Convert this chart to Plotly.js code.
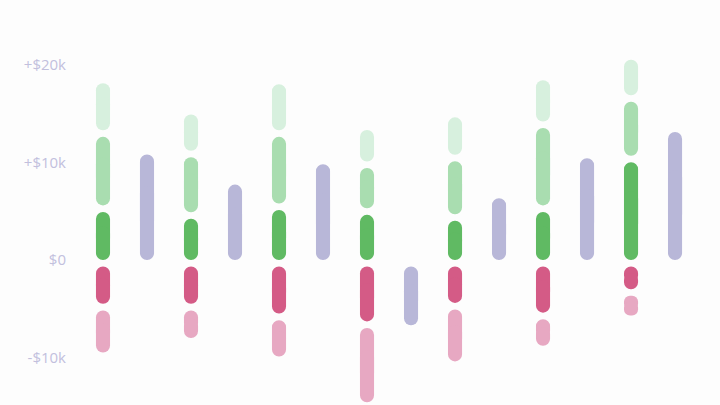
<!DOCTYPE html>
<html>
<head>
<meta charset="utf-8">
<script src="https://cdn.plot.ly/plotly-3.0.1.min.js"></script>
<style>
  html, body { margin: 0; padding: 0; background: #fdfdfd; }
  #chart { width: 720px; height: 405px; }
</style>
</head>
<body>
<div id="chart"></div>
<script>
// seven periods, each a stacked bar (gains up, costs down) and a net bar beside it
var periods = [0, 1, 2, 3, 4, 5, 6];

var darkGreen  = [5600, 4900, 5800, 5300, 4700, 5600, 10700];
var midGreen   = [7700, 6300, 7500, 4800, 6100, 8600, 6200];
var lightGreen = [5500, 4400, 5400, 3900, 4500, 4900, 4300];
var darkPink   = [-4500, -4500, -5500, -6300, -4400, -5400, -3000];
var lightPink  = [-5000, -3500, -4400, -8300, -6000, -3400, -2700];
var netValue   = [11500, 8400, 10500, -6700, 7000, 11100, 13800];

var tickVals  = [-10000, 0, 10000, 20000];
var tickTexts = ['-$10k', '$0', '+$10k', '+$20k'];

var GAP = 667;      // white gap at the top of every segment, in dollars
var BAR_W = 0.16;

// a pill shaped segment is two overlapping bars, each rounded at its far end
function pill(xs, los, his, color) {
  var upBase = [], upLen = [], dnBase = [], dnLen = [];
  for (var i = 0; i < xs.length; i++) {
    var lo = los[i], hi = his[i] - GAP;
    var L = hi - lo;
    upBase.push(lo + L * 0.3); upLen.push(L * 0.7);
    dnBase.push(lo + L * 0.7); dnLen.push(-L * 0.7);
  }
  var common = {type: 'bar', x: xs, width: BAR_W, marker: {color: color},
                hoverinfo: 'skip', showlegend: false};
  return [
    Object.assign({}, common, {base: upBase, y: upLen}),
    Object.assign({}, common, {base: dnBase, y: dnLen, marker: {color: color}})
  ];
}

var traces = [];
var zeros = periods.map(function() { return 0; });
var g1 = darkGreen;
var g2 = darkGreen.map(function(v, i) { return v + midGreen[i]; });
var g3 = g2.map(function(v, i) { return v + lightGreen[i]; });
var p1 = darkPink;
var p2 = darkPink.map(function(v, i) { return v + lightPink[i]; });

traces = traces.concat(pill(periods, zeros, g1, '#60ba63'));
traces = traces.concat(pill(periods, g1, g2, '#a9ddb0'));
traces = traces.concat(pill(periods, g2, g3, '#d7f0de'));
traces = traces.concat(pill(periods, p1, zeros, '#d45b86'));
traces = traces.concat(pill(periods, p2, p1, '#e7a8c2'));

var netX = periods.map(function(p) { return p + 0.5; });
var netLo = netValue.map(function(v) { return Math.min(v, 0); });
var netHi = netValue.map(function(v) { return Math.max(v, 0); });
traces = traces.concat(pill(netX, netLo, netHi, '#b8b7d8'));

var layout = {
  width: 720,
  height: 405,
  margin: {l: 70, r: 0, t: 0, b: 0},
  paper_bgcolor: '#fdfdfd',
  plot_bgcolor: '#fdfdfd',
  barmode: 'overlay',
  barcornerradius: 7,
  font: {family: 'Open Sans, sans-serif', size: 15, color: '#c2c0dd'},
  xaxis: {range: [-0.375, 7.011], visible: false, fixedrange: true},
  yaxis: {
    range: [-14872, 26667],
    tickvals: tickVals,
    ticktext: tickTexts,
    showgrid: false,
    zeroline: false,
    showline: false,
    ticks: '',
    ticklabelstandoff: 3,
    fixedrange: true
  }
};

Plotly.newPlot('chart', traces, layout, {displayModeBar: false, staticPlot: true});
</script>
</body>
</html>
